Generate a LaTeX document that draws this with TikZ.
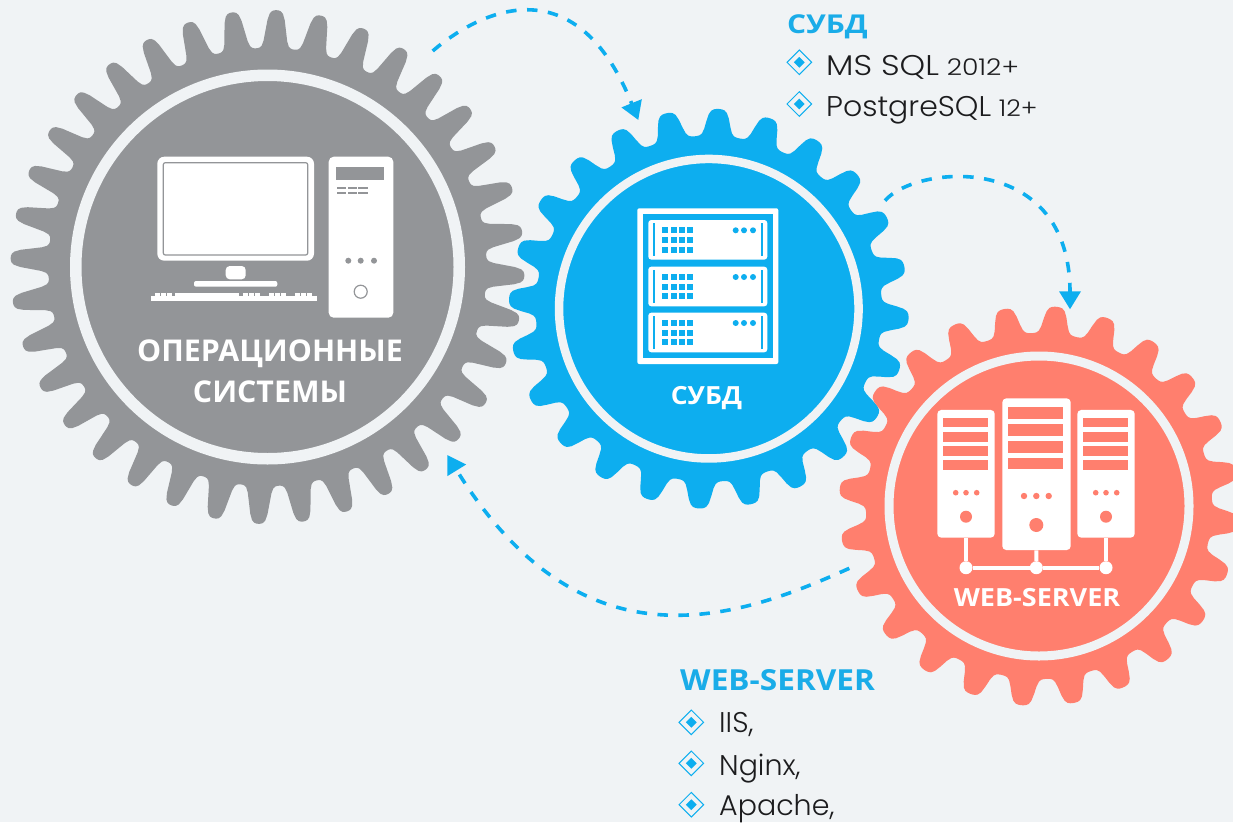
\documentclass[tikz,border=0pt]{standalone}
\usepackage{fontspec}
\setmainfont{Open Sans}
\newfontfamily\listfont{Poppins Light}
\usetikzlibrary{arrows.meta,shapes.geometric}
\definecolor{pagebg}{HTML}{F0F3F5}
\definecolor{osgray}{HTML}{939598}
\definecolor{dbblue}{HTML}{0DAEEF}
\definecolor{webred}{HTML}{FF7F6E}
\definecolor{headblue}{HTML}{1AACE8}
\definecolor{listink}{HTML}{1C1C1E}
\tikzset{
  declare function = {gearf(\u) = tanh(1.9*(\u-0.05));},
  hubring/.style = {circle, draw=pagebg, inner sep=0pt},
  hubtext/.style = {align=center, inner sep=0pt, white, font=\bfseries},
  headtext/.style = {anchor=base west, inner sep=0pt, headblue},
  itemtext/.style = {anchor=base west, inner sep=0pt, listink, font=\listfont\fontsize{28.5}{34}\selectfont},
  bulletbox/.style = {diamond, draw=dbblue, line width=1pt, aspect=1, inner sep=0pt, minimum size=25pt},
  bulletdot/.style = {diamond, fill=dbblue, aspect=1, inner sep=0pt, minimum size=11pt},
  flowline/.style = {draw=dbblue, line width=3.6pt, dash pattern=on 10.5pt off 10.5pt, -{Triangle[width=21pt,length=18pt]}},
  towerbox/.style = {rectangle, fill=white, rounded corners=4pt, inner sep=0pt},
  linkdot/.style = {circle, fill=white, inner sep=0pt, minimum size=13pt},
  linkline/.style = {draw=white, line width=4pt}
}
% teeth of one wheel: colour, x, y, teeth, phase, tip radius, root radius
\newcommand{\drawgear}[7]{
  \pgfmathtruncatemacro{\gearsamples}{#4*20+1}
  \fill[#1] plot[domain=0:360, samples=\gearsamples, variable=\t]
    ({#2+(#7+(#6-#7)*(gearf(cos(#4*(\t-#5)))-gearf(-1))/(gearf(1)-gearf(-1)))*cos(\t)},
     {#3-(#7+(#6-#7)*(gearf(cos(#4*(\t-#5)))-gearf(-1))/(gearf(1)-gearf(-1)))*sin(\t)}) -- cycle;
}
\newcommand{\wide}[1]{\addfontfeature{FakeStretch=#1}}
\begin{document}
\begin{tikzpicture}[x=1pt, y=-1pt]
  \useasboundingbox (0,0) rectangle (1233,822);
  \clip (0,0) rectangle (1233,822);
  \fill[pagebg] (0,0) rectangle (1233,822);

  % Wheels:
  \drawgear{osgray}{267.5}{267}{36}{8}{257}{219}
  \drawgear{dbblue}{708.8}{308.7}{24}{12.2}{200}{173}
  \drawgear{webred}{1039}{506}{24}{10}{200}{173}
  \node [hubring, fill=osgray, minimum size=383.5pt, line width=11.5pt] (oshub) at (267.5,267) {};
  \node [hubring, fill=dbblue, minimum size=299.5pt, line width=8.5pt] (dbhub) at (708.8,308.7) {};
  \node [hubring, fill=webred, minimum size=300pt, line width=9pt] (webhub) at (1039,506) {};

  % Computer - monitor:
  \fill[white, rounded corners=7pt] (157.3,156.7) rectangle (314,260.7);
  \draw[osgray, line width=1.2pt, rounded corners=2pt] (163.3,162.7) rectangle (307.7,255);
  \fill[white, rounded corners=4pt] (225.7,266) rectangle (245.7,279.3);
  \fill[white, rounded corners=2pt] (194,281) rectangle (277.3,286.7);
  \fill[white] (151,295.7) rectangle (317.3,300.7);
  \fill[white] (175,293.3) rectangle (239.3,295.7);
  \foreach \keyx in {155,161,167,243,249,255,269,275,281,295,301,307}
    \fill[white] (\keyx,293.3) rectangle (\keyx+4.5,295.7);
  % Computer - tower:
  \fill[white, rounded corners=5pt] (328.7,156.7) rectangle (393.3,317.7);
  \fill[osgray] (336,166.7) rectangle (384.3,180);
  \foreach \slotx in {336.7,347.7,358.3} {
    \fill[osgray] (\slotx,186.7) rectangle (\slotx+9.3,189.3);
    \fill[osgray] (\slotx,191.7) rectangle (\slotx+9.3,194.3);
  }
  \foreach \dotx in {348.3,360.7,374}
    \fill[osgray] (\dotx,260.7) circle (3pt);
  \draw[osgray, fill=white, line width=1.2pt] (360.7,291.7) circle (6.5pt);

  % Rack:
  \fill[white, rounded corners=2pt] (637.3,208.3) rectangle (778.3,364);
  \fill[dbblue] (643,214) rectangle (773,358.3);
  \foreach \unity in {220,266.7,312.7} {
    \fill[white, rounded corners=3pt] (648.3,\unity) rectangle (767.3,\unity+39.6);
    \fill[dbblue] (653.3,\unity+3.3) rectangle (655.3,\unity+36);
    \fill[dbblue] (760.7,\unity+3.3) rectangle (762.7,\unity+36);
    \foreach \cellx in {665.3,673.7,682,690.3}
      \foreach \celly in {10.3,20,29.7}
        \fill[dbblue] (\cellx-3,\unity+\celly-3) rectangle (\cellx+3,\unity+\celly+3);
    \foreach \lampx in {735.7,744,753}
      \fill[dbblue] (\lampx,\unity+10.3) circle (3pt);
  }

  % Servers:
  \node [towerbox, minimum width=57.4pt, minimum height=127.7pt] (srvleft) at (966,473.8) {};
  \node [towerbox, minimum width=68.4pt, minimum height=151.7pt] (srvmid) at (1036.5,474.2) {};
  \node [towerbox, minimum width=57.4pt, minimum height=127.7pt] (srvright) at (1106,473.8) {};
  \node [linkdot] (dotleft) at (966,567.7) {};
  \node [linkdot] (dotmid) at (1036.3,567.7) {};
  \node [linkdot] (dotright) at (1106,567.7) {};
  \draw[linkline] (srvleft) -- (dotleft);
  \draw[linkline] (srvmid) -- (dotmid);
  \draw[linkline] (srvright) -- (dotright);
  \draw[linkline] (dotleft) -- (dotmid);
  \draw[linkline] (dotmid) -- (dotright);
  % side servers have the same front:
  \foreach \srvx in {966,1106} {
    \fill[webred] (\srvx-22.8,418.3) rectangle (\srvx+22.3,427.3);
    \fill[webred] (\srvx-22.8,432.3) rectangle (\srvx+22.3,441.7);
    \fill[webred] (\srvx-22.8,446) rectangle (\srvx+22.3,456);
    \fill[webred] (\srvx-22.8,460) rectangle (\srvx+22.3,470);
    \foreach \lampd in {-10.3,0,10.7}
      \fill[webred] (\srvx+\lampd,492.7) circle (2.8pt);
    \fill[webred] (\srvx,516.7) circle (6pt);
  }
  \fill[webred] (1008.3,407.3) rectangle (1062.7,419.3);
  \fill[webred] (1008.3,424.3) rectangle (1062.7,436);
  \fill[webred] (1008.3,440.7) rectangle (1062.7,452.7);
  \fill[webred] (1008.3,457.7) rectangle (1062.7,469.3);
  \foreach \lampx in {1024,1036.3,1048.7}
    \fill[webred] (\lampx,496) circle (3.2pt);
  \fill[webred] (1036.3,525) circle (7pt);

  % Wheel labels:
  \node [hubtext, font=\bfseries\wide{1.01}\fontsize{30}{41}\selectfont] (oslabel) at (270,371) {ОПЕРАЦИОННЫЕ\\СИСТЕМЫ};
  \node [hubtext, font=\bfseries\wide{1.06}\fontsize{25}{30}\selectfont] (dblabel) at (706.5,398) {СУБД};
  \node [hubtext, font=\bfseries\wide{1.08}\fontsize{25}{30}\selectfont] (weblabel) at (1037,598) {WEB-SERVER};

  % Lists:
  \node [headtext, font=\bfseries\wide{1.15}\fontsize{26}{30}\selectfont] (dbhead) at (787,33) {СУБД};
  \node [bulletbox] (dbbox1) at (799.3,62.3) {};
  \node [bulletdot] (dbdot1) at (799.3,62.3) {};
  \node [itemtext] (dbitem1) at (826,75) {{\wide{1.14}MS SQL} {\wide{1.16}\fontsize{23}{26}\selectfont 2012+}};
  \node [bulletbox] (dbbox2) at (799.3,104) {};
  \node [bulletdot] (dbdot2) at (799.3,104) {};
  \node [itemtext] (dbitem2) at (826,116.7) {{\wide{1.05}PostgreSQL} {\wide{1.1}\fontsize{23}{26}\selectfont 12+}};

  \node [headtext, font=\bfseries\wide{1.09}\fontsize{29}{34}\selectfont] (webhead) at (680,690.7) {WEB-SERVER};
  \node [bulletbox] (webbox1) at (691.3,722.3) {};
  \node [bulletdot] (webdot1) at (691.3,722.3) {};
  \node [itemtext] (webitem1) at (719,732.7) {IIS,};
  \node [bulletbox] (webbox2) at (691.3,763.3) {};
  \node [bulletdot] (webdot2) at (691.3,763.3) {};
  \node [itemtext] (webitem2) at (719,775) {Nginx,};
  \node [bulletbox] (webbox3) at (691.3,804.7) {};
  \node [bulletdot] (webdot3) at (691.3,804.7) {};
  \node [itemtext] (webitem3) at (719,815.7) {Apache,};

  % Arrows:
  \coordinate (osout) at (432.7,51);
  \coordinate (dbin) at (638.3,120);
  \coordinate (dbout) at (885,200.7);
  \coordinate (webin) at (1070,309.3);
  \coordinate (webout) at (849.3,568.3);
  \coordinate (osin) at (447.3,455);
  \draw[flowline] (osout) .. controls (462.7,25) and (570,-50) .. (dbin);
  \draw[flowline] (dbout) .. controls (915,165) and (1070,150) .. (webin);
  \draw[flowline] (webout) .. controls (739,618) and (583,675) .. (osin);
\end{tikzpicture}
\end{document}
